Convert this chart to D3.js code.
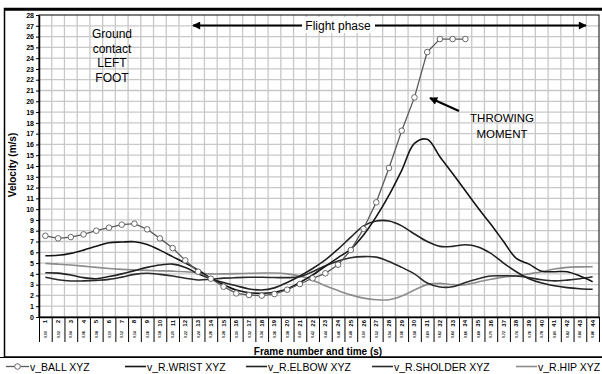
<!DOCTYPE html>
<html>
<head>
<meta charset="utf-8">
<script src="https://cdn.jsdelivr.net/npm/d3@7"></script>
<style>
  body { margin: 0; background: #fff; }
  svg { display: block; font-family: Arial, "Liberation Sans", sans-serif; }
</style>
</head>
<body>
<div class="chart"></div>
<script>
// frame number / time labels for the category axis
var frames = ['1','2','3','4','5','6','7','8','9','10','11','12','13','14','15','16','17','18','19','20','21','22',
  '23','24','25','26','27','28','29','30','31','32','33','34','35','36','37','38','39','40','41','42','43','44'];
var times = ['0.00','0.02','0.04','0.06','0.08','0.10','0.12','0.14','0.16','0.18','0.20','0.22','0.24','0.26','0.28',
  '0.30','0.32','0.34','0.36','0.38','0.40','0.42','0.44','0.46','0.48','0.50','0.52','0.54','0.56','0.58','0.60',
  '0.62','0.64','0.66','0.68','0.70','0.72','0.74','0.76','0.78','0.80','0.82','0.84','0.86'];
var yTicks = [0,1,2,3,4,5,6,7,8,9,10,11,12,13,14,15,16,17,18,19,20,21,22,23,24,25,26,27,28];

var ball = [7.53,7.29,7.41,7.66,8.0,8.28,8.56,8.65,8.13,7.29,6.39,5.25,4.2,3.55,2.81,2.19,2.04,1.98,2.13,2.53,
  3.06,3.59,4.05,4.85,6.21,8.18,10.63,13.81,17.27,20.36,24.56,25.77,25.77,25.77];
var wrist = [5.68,5.72,5.9,6.2,6.55,6.89,6.95,6.98,6.73,6.2,5.6,5.0,4.36,3.6,3.0,2.5,2.25,2.2,2.3,2.6,3.2,3.9,
  4.7,5.5,6.3,7.6,9.3,11.3,13.6,16.1,16.47,14.86,13.3,11.7,10.1,8.6,7.0,5.44,4.9,4.25,4.2,4.2,3.8,3.27];
var elbow = [4.1,4.07,3.9,3.65,3.55,3.75,4.0,4.3,4.6,4.82,4.9,4.6,4.0,3.55,3.2,2.9,2.6,2.5,2.7,3.2,3.8,4.5,5.3,
  6.3,7.4,8.45,8.9,8.9,8.45,7.7,7.0,6.55,6.55,6.7,6.5,5.9,5.0,4.2,3.55,3.15,2.9,2.72,2.62,2.57];
var shoulder = [3.68,3.45,3.34,3.35,3.4,3.49,3.7,3.95,4.05,3.95,3.8,3.6,3.43,3.5,3.6,3.65,3.68,3.68,3.66,3.65,
  3.73,4.2,4.75,5.2,5.5,5.6,5.55,5.15,4.6,4.0,3.15,2.78,2.8,3.2,3.55,3.8,3.82,3.8,3.65,3.45,3.35,3.42,3.55,3.73];
var hip = [4.97,4.9,4.82,4.72,4.6,4.5,4.42,4.36,4.32,4.28,4.25,4.2,4.1,4.0,4.0,4.02,4.05,4.08,4.08,4.0,3.8,3.4,
  2.9,2.45,2.05,1.75,1.6,1.6,1.95,2.5,3.0,3.12,3.0,3.0,3.25,3.5,3.7,3.8,4.0,4.2,4.45,4.6,4.65,4.66];

(function(){

  var width = 602,
    height = 374,
    plot = {left: 39, top: 15, right: 599, bottom: 317};

  var svg = d3.select('.chart')
    .append('svg')
    .attr('width', width)
    .attr('height', height);

  var x = d3.scaleBand()
    .domain(d3.range(frames.length))
    .range([plot.left, plot.right]);
  var xEdge = d3.scaleLinear()
    .domain([0, frames.length])
    .range([plot.left, plot.right]);
  var y = d3.scaleLinear()
    .domain([0, 28])
    .range([plot.bottom, plot.top]);
  var cx = function(i){ return x(i) + x.bandwidth() / 2; };

  // outer frame
  svg.append('rect')
    .attr('x', 4.5).attr('y', 8.5)
    .attr('width', 600).attr('height', 348.5)
    .attr('fill', 'none')
    .attr('stroke', '#000')
    .attr('stroke-width', 1.5);
  svg.append('line')
    .attr('x1', 4).attr('x2', 602)
    .attr('y1', 9.5).attr('y2', 9.5)
    .attr('stroke', '#000').attr('stroke-width', 2.5);

  // grid
  var grid = svg.append('g').attr('stroke', '#c8c8c8').attr('stroke-width', 1.3);
  grid.selectAll('.gx').data(d3.range(1, frames.length))
    .enter().append('line')
    .attr('x1', function(d){ return xEdge(d); })
    .attr('x2', function(d){ return xEdge(d); })
    .attr('y1', plot.top).attr('y2', plot.bottom);
  grid.selectAll('.gy').data(yTicks.slice(1, -1))
    .enter().append('line')
    .attr('y1', function(d){ return y(d); })
    .attr('y2', function(d){ return y(d); })
    .attr('x1', plot.left).attr('x2', plot.right);

  // plot border
  svg.append('rect')
    .attr('x', plot.left).attr('y', plot.top)
    .attr('width', plot.right - plot.left)
    .attr('height', plot.bottom - plot.top)
    .attr('fill', 'none')
    .attr('stroke', '#000')
    .attr('stroke-width', 1);

  // y axis
  var yAxis = svg.append('g')
    .attr('transform', 'translate(' + plot.left + ',0)')
    .call(d3.axisLeft(y).tickValues(yTicks).tickSize(3).tickSizeOuter(0).tickPadding(2));
  yAxis.selectAll('text')
    .attr('font-size', 7)
    .attr('font-weight', 'bold')
    .attr('font-family', 'Arial, "Liberation Sans", sans-serif');
  yAxis.select('.domain').attr('stroke-width', 1.5);

  // x axis: category edges with long ticks, labels drawn per category
  var xAxis = svg.append('g')
    .attr('transform', 'translate(0,' + plot.bottom + ')')
    .call(d3.axisBottom(xEdge).tickValues(d3.range(frames.length + 1)).tickSize(25).tickSizeOuter(0).tickFormat(''));
  xAxis.select('.domain').attr('stroke-width', 1.5);

  var xl = svg.append('g').attr('font-weight', 'bold').attr('fill', '#000');
  xl.selectAll('.fr').data(frames)
    .enter().append('text')
    .attr('transform', function(d, i){ return 'translate(' + (cx(i) + 2) + ',' + (plot.bottom + 3) + ') rotate(-90)'; })
    .attr('text-anchor', 'end')
    .attr('font-size', 6)
    .text(function(d){ return d; });
  xl.selectAll('.tm').data(times)
    .enter().append('text')
    .attr('transform', function(d, i){ return 'translate(' + (cx(i) + 1.5) + ',' + (plot.bottom + 14) + ') rotate(-90)'; })
    .attr('text-anchor', 'end')
    .attr('font-size', 3.5)
    .text(function(d){ return d; });

  // axis titles
  svg.append('text')
    .attr('transform', 'translate(16,165) rotate(-90)')
    .attr('text-anchor', 'middle')
    .attr('font-size', 10)
    .attr('font-weight', 'bold')
    .text('Velocity (m/s)');
  svg.append('text')
    .attr('x', 318).attr('y', 355)
    .attr('text-anchor', 'middle')
    .attr('font-size', 10)
    .attr('font-weight', 'bold')
    .text('Frame number and time (s)');

  // series
  var smooth = d3.line()
    .x(function(d, i){ return cx(i); })
    .y(function(d){ return y(d); })
    .curve(d3.curveCatmullRom);
  var straight = d3.line()
    .x(function(d, i){ return cx(i); })
    .y(function(d){ return y(d); });

  var series = [
    {name: 'v_R.HIP XYZ', values: hip, color: '#8c8c8c', lx: 516},
    {name: 'v_R.SHOLDER XYZ', values: shoulder, color: '#2a2a2a', lx: 372},
    {name: 'v_R.ELBOW XYZ', values: elbow, color: '#222', lx: 246},
    {name: 'v_R.WRIST XYZ', values: wrist, color: '#151515', lx: 125}
  ];

  svg.append('g').selectAll('path').data(series)
    .enter().append('path')
    .attr('d', function(d){ return smooth(d.values); })
    .attr('fill', 'none')
    .attr('stroke', function(d){ return d.color; })
    .attr('stroke-width', 1.6);

  var ballG = svg.append('g');
  ballG.append('path')
    .attr('d', straight(ball))
    .attr('fill', 'none')
    .attr('stroke', '#5a5a5a')
    .attr('stroke-width', 1.3);
  ballG.selectAll('circle').data(ball)
    .enter().append('circle')
    .attr('cx', function(d, i){ return cx(i); })
    .attr('cy', function(d){ return y(d); })
    .attr('r', 2.8)
    .attr('fill', '#fff')
    .attr('stroke', '#5a5a5a')
    .attr('stroke-width', 0.9);

  // annotations
  var defs = svg.append('defs');
  defs.append('marker')
    .attr('id', 'arr')
    .attr('viewBox', '0 0 10 10')
    .attr('refX', 9).attr('refY', 5)
    .attr('markerWidth', 4.5).attr('markerHeight', 4)
    .attr('orient', 'auto-start-reverse')
    .append('path')
    .attr('d', 'M0,0L10,5L0,10z')
    .attr('fill', '#000');

  svg.append('line')
    .attr('x1', 193).attr('x2', 586)
    .attr('y1', 25.5).attr('y2', 25.5)
    .attr('stroke', '#000').attr('stroke-width', 2)
    .attr('marker-start', 'url(#arr)')
    .attr('marker-end', 'url(#arr)');
  svg.append('rect')
    .attr('x', 302).attr('y', 17)
    .attr('width', 73).attr('height', 16)
    .attr('fill', '#fff');
  svg.append('text')
    .attr('x', 338).attr('y', 29.5)
    .attr('text-anchor', 'middle')
    .attr('font-size', 12)
    .text('Flight phase');

  var ground = ['Ground', 'contact', 'LEFT', 'FOOT'];
  svg.append('g').selectAll('text').data(ground)
    .enter().append('text')
    .attr('x', 112)
    .attr('y', function(d, i){ return 38 + i * 14.7; })
    .attr('text-anchor', 'middle')
    .attr('font-size', 12)
    .text(function(d){ return d; });

  var throwing = ['THROWING', 'MOMENT'];
  svg.append('g').selectAll('text').data(throwing)
    .enter().append('text')
    .attr('x', 502)
    .attr('y', function(d, i){ return 122 + i * 15.5; })
    .attr('text-anchor', 'middle')
    .attr('font-size', 11.5)
    .text(function(d){ return d; });
  svg.append('line')
    .attr('x1', 459).attr('y1', 111)
    .attr('x2', 430).attr('y2', 98)
    .attr('stroke', '#000').attr('stroke-width', 2)
    .attr('marker-end', 'url(#arr)');

  // legend
  svg.append('line')
    .attr('x1', 0).attr('x2', width)
    .attr('y1', 357.5).attr('y2', 357.5)
    .attr('stroke', '#000').attr('stroke-width', 1);

  var legend = svg.append('g').attr('font-size', 10.5);
  var bl = legend.append('g');
  bl.append('line')
    .attr('x1', 6).attr('x2', 29)
    .attr('y1', 366.5).attr('y2', 366.5)
    .attr('stroke', '#5a5a5a').attr('stroke-width', 1.3);
  bl.append('circle')
    .attr('cx', 17.5).attr('cy', 366.5).attr('r', 2.8)
    .attr('fill', '#fff').attr('stroke', '#5a5a5a').attr('stroke-width', 0.9);
  bl.append('text').attr('x', 30).attr('y', 370.5).text('v_BALL XYZ');

  var items = legend.selectAll('.li').data(series.slice().reverse())
    .enter().append('g');
  items.append('line')
    .attr('x1', function(d){ return d.lx; })
    .attr('x2', function(d){ return d.lx + 21; })
    .attr('y1', 366.5).attr('y2', 366.5)
    .attr('stroke', function(d){ return d.color; })
    .attr('stroke-width', 1.6);
  items.append('text')
    .attr('x', function(d){ return d.lx + 22; })
    .attr('y', 370.5)
    .text(function(d){ return d.name; });

}());
</script>
</body>
</html>
